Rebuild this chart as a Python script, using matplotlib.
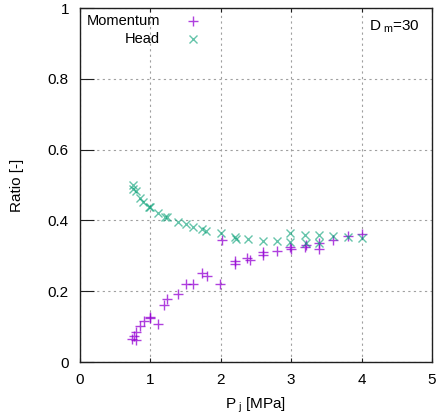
import matplotlib
matplotlib.use("Agg")
import matplotlib.pyplot as plt

plt.rcParams['font.family'] = ['Liberation Sans', 'DejaVu Sans']
plt.rcParams['mathtext.fontset'] = 'custom'
plt.rcParams['mathtext.rm'] = 'Liberation Sans'
plt.rcParams['mathtext.it'] = 'Liberation Sans'

# Momentum ratio data
mom_x = [0.74, 0.77, 0.79, 0.80, 0.85, 0.91, 0.99, 1.00, 1.11, 1.20, 1.24, 1.39,
         1.51, 1.60, 1.74, 1.80, 1.99, 2.01, 2.20, 2.20, 2.37, 2.41, 2.60, 2.60,
         2.80, 2.99, 3.00, 3.19, 3.21, 3.39, 3.40, 3.59, 3.80, 4.00]
mom_y = [0.066, 0.074, 0.061, 0.086, 0.102, 0.117, 0.128, 0.123, 0.106, 0.160, 0.177, 0.192,
         0.220, 0.220, 0.252, 0.243, 0.220, 0.344, 0.285, 0.276, 0.293, 0.289, 0.310, 0.302,
         0.314, 0.326, 0.318, 0.326, 0.330, 0.318, 0.335, 0.345, 0.356, 0.362]

# Head ratio data
head_x = [0.75, 0.757, 0.79, 0.85, 0.89, 0.985, 1.00, 1.11, 1.21, 1.23, 1.39, 1.50,
          1.60, 1.74, 1.79, 2.00, 2.20, 2.21, 2.39, 2.60, 2.80, 2.99, 2.99, 3.20,
          3.21, 3.39, 3.39, 3.59, 3.80, 4.00]
head_y = [0.490, 0.500, 0.484, 0.462, 0.451, 0.439, 0.437, 0.422, 0.410, 0.409, 0.395, 0.390,
          0.380, 0.375, 0.369, 0.363, 0.354, 0.348, 0.347, 0.343, 0.343, 0.363, 0.340, 0.360,
          0.337, 0.359, 0.335, 0.356, 0.352, 0.349]

xticks = [0, 1, 2, 3, 4, 5]
yticks = [0, 0.2, 0.4, 0.6, 0.8, 1.0]
ytick_labels = ['0', '0.2', '0.4', '0.6', '0.8', '1']

purple = '#9400d3'
green = '#009e73'

fig = plt.figure(figsize=(4.36, 4.20), dpi=100)
ax = fig.add_axes([80/436, 1 - 362/420, 352/436, 354/420])

ax.plot(mom_x, mom_y, linestyle='none', marker='+', ms=7, mew=1.0, color=purple, alpha=0.75)
ax.plot(head_x, head_y, linestyle='none', marker='x', ms=6, mew=1.0, color=green, alpha=0.6)

ax.set_xlim(0, 5)
ax.set_ylim(0, 1)
ax.set_xticks(xticks)
ax.set_xticklabels([str(t) for t in xticks])
ax.set_yticks(yticks)
ax.set_yticklabels(ytick_labels)

ax.grid(True, color='#a0a0a0', linestyle=(0, (2, 3)), linewidth=0.8)
ax.set_axisbelow(True)

for s in ax.spines.values():
    s.set_linewidth(1.0)
    s.set_color('#202020')

ax.tick_params(axis='x', direction='in', length=3, width=0.8, top=True, labelsize=11, pad=8, colors='#202020')
ax.tick_params(axis='y', direction='in', length=10, width=0.8, right=False, labelsize=11, pad=8, colors='#202020')
for lab in ax.get_xticklabels() + ax.get_yticklabels():
    lab.set_color('black')

ax.set_xlabel(r'P$_{\ \rm j}$ [MPa]', fontsize=11, labelpad=6)
ax.set_ylabel('Ratio [-]', fontsize=11, labelpad=17)

# Legend (gnuplot style: right-aligned text, then marker)
ax.text(0.227, 0.962, 'Momentum', transform=ax.transAxes, ha='right', va='center', fontsize=10.5)
ax.text(0.227, 0.912, 'Head', transform=ax.transAxes, ha='right', va='center', fontsize=10.5)
ax.plot([0.32], [0.962], transform=ax.transAxes, marker='+', ms=7, mew=1.0, color=purple, alpha=0.75, clip_on=False)
ax.plot([0.32], [0.912], transform=ax.transAxes, marker='x', ms=6, mew=1.0, color=green, alpha=0.6, clip_on=False)

ax.text(0.966, 0.948, r'D$_{\ \rm m}$=30', transform=ax.transAxes, ha='right', va='center', fontsize=11)

fig.savefig('out.png', dpi=100)
